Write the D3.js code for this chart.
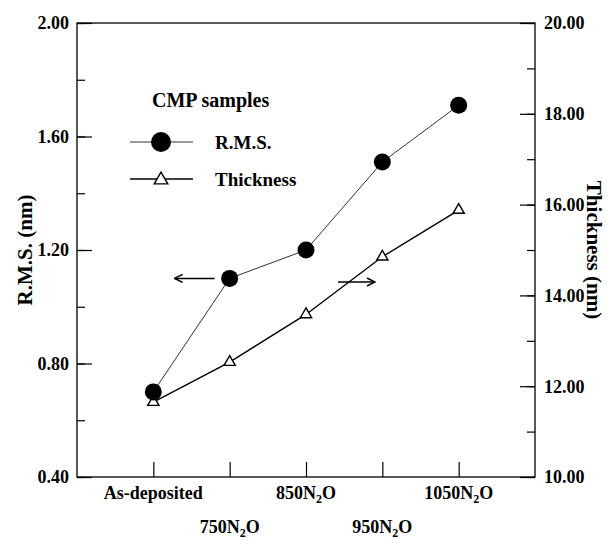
<!DOCTYPE html>
<html>
<head>
<meta charset="utf-8">
<script src="https://cdn.jsdelivr.net/npm/d3@7"></script>
<style>
  html, body { margin: 0; padding: 0; background: #fff; }
  svg text { font-family: "Liberation Serif", "Times New Roman", serif; font-weight: bold; fill: #000; }
</style>
</head>
<body>
<svg id="chart" width="611" height="544"></svg>
<script>
// ---- data ----
const categories = ["As-deposited", "750N2O", "850N2O", "950N2O", "1050N2O"];
const rmsValues = [0.70, 1.10, 1.20, 1.51, 1.71];
const thicknessValues = [11.65, 12.53, 13.58, 14.85, 15.88];
const leftTicks = [0.40, 0.80, 1.20, 1.60, 2.00];
const rightTicks = [10, 12, 14, 16, 18, 20];
const legendTitle = "CMP samples";
const legendLabels = ["R.M.S.", "Thickness"];

// ---- layout ----
const L = 77, R = 535, T = 23, B = 477;
const svg = d3.select("#chart");

const x = d3.scalePoint().domain(categories).range([L, R]).padding(1);
const yL = d3.scaleLinear().domain([0.4, 2.0]).range([B, T]);
const yR = d3.scaleLinear().domain([10, 20]).range([B, T]);

// frame
svg.append("rect").attr("x", L).attr("y", T).attr("width", R - L).attr("height", B - T)
  .attr("fill", "none").attr("stroke", "#000").attr("stroke-width", 1.3);

// left axis: major + minor ticks inward
const leftMinor = d3.range(0.4, 2.0001, 0.2);
svg.append("g").attr("transform", `translate(${L},0)`)
  .call(d3.axisRight(yL).tickValues(leftMinor).tickSize(8).tickFormat(""))
  .call(g => g.select(".domain").remove())
  .selectAll("line").attr("stroke", "#000").attr("stroke-width", 1.2);
svg.append("g").attr("transform", `translate(${L},0)`)
  .call(d3.axisRight(yL).tickValues(leftTicks).tickSize(15).tickFormat(""))
  .call(g => g.select(".domain").remove())
  .selectAll("line").attr("stroke", "#000").attr("stroke-width", 1.2);
svg.append("g").selectAll("text").data(leftTicks).join("text")
  .attr("x", L - 8).attr("y", d => yL(d)).attr("dy", "0.35em")
  .attr("text-anchor", "end").attr("font-size", 18)
  .text(d => d.toFixed(2));

// right axis
const rightMinor = d3.range(10, 20.001, 1);
svg.append("g").attr("transform", `translate(${R},0)`)
  .call(d3.axisLeft(yR).tickValues(rightMinor).tickSize(8).tickFormat(""))
  .call(g => g.select(".domain").remove())
  .selectAll("line").attr("stroke", "#000").attr("stroke-width", 1.2);
svg.append("g").attr("transform", `translate(${R},0)`)
  .call(d3.axisLeft(yR).tickValues(rightTicks).tickSize(15).tickFormat(""))
  .call(g => g.select(".domain").remove())
  .selectAll("line").attr("stroke", "#000").attr("stroke-width", 1.2);
svg.append("g").selectAll("text").data(rightTicks).join("text")
  .attr("x", R + 9).attr("y", d => yR(d)).attr("dy", "0.35em")
  .attr("text-anchor", "start").attr("font-size", 18)
  .text(d => d.toFixed(2));

// bottom axis ticks inward
svg.append("g").attr("transform", `translate(0,${B})`)
  .call(d3.axisTop(x).tickSize(15).tickFormat(""))
  .call(g => g.select(".domain").remove())
  .selectAll("line").attr("stroke", "#000").attr("stroke-width", 1.2);

// category labels with subscript, alternating rows
const catLabels = svg.append("g").selectAll("text").data(categories).join("text")
  .attr("x", d => x(d)).attr("y", (d, i) => i % 2 === 0 ? 499 : 533)
  .attr("text-anchor", "middle").attr("font-size", 18);
catLabels.each(function(d) {
  const t = d3.select(this);
  const m = d.match(/^(\d+)N2O$/);
  if (m) {
    t.append("tspan").text(m[1] + "N");
    t.append("tspan").attr("font-size", 12).attr("dy", 4).text("2");
    t.append("tspan").attr("dy", -4).text("O");
  } else {
    t.text(d);
  }
});

// axis titles
svg.append("text").attr("transform", "translate(32,250) rotate(-90)")
  .attr("text-anchor", "middle").attr("font-size", 21).text("R.M.S. (nm)");
svg.append("text").attr("transform", "translate(587,250) rotate(90)")
  .attr("text-anchor", "middle").attr("font-size", 21).text("Thickness (nm)");

// series lines
const lineRms = d3.line().x((d, i) => x(categories[i])).y(d => yL(d));
const lineTh = d3.line().x((d, i) => x(categories[i])).y(d => yR(d));
svg.append("path").datum(rmsValues).attr("d", lineRms)
  .attr("fill", "none").attr("stroke", "#333").attr("stroke-width", 1);
svg.append("path").datum(thicknessValues).attr("d", lineTh)
  .attr("fill", "none").attr("stroke", "#000").attr("stroke-width", 1.4);

// markers
const tri = d3.symbol().type(d3.symbolTriangle).size(55);
svg.append("g").selectAll("path").data(thicknessValues).join("path")
  .attr("d", tri)
  .attr("transform", (d, i) => `translate(${x(categories[i])},${yR(d)})`)
  .attr("fill", "#fff").attr("stroke", "#000").attr("stroke-width", 1.4);
svg.append("g").selectAll("circle").data(rmsValues).join("circle")
  .attr("cx", (d, i) => x(categories[i])).attr("cy", d => yL(d)).attr("r", 8.5)
  .attr("fill", "#000");

// arrows
svg.append("defs").append("marker").attr("id", "ah")
  .attr("viewBox", "0 0 10 10").attr("refX", 9).attr("refY", 5)
  .attr("markerWidth", 10).attr("markerHeight", 10).attr("markerUnits", "userSpaceOnUse")
  .attr("orient", "auto")
  .append("path").attr("d", "M1,1 L9,5 L1,9").attr("fill", "none").attr("stroke", "#000").attr("stroke-width", 1.5);
const arrowLeftY = yL(rmsValues[1]);
svg.append("line").attr("x1", x(categories[1]) - 15).attr("y1", arrowLeftY)
  .attr("x2", x(categories[1]) - 55).attr("y2", arrowLeftY)
  .attr("stroke", "#000").attr("stroke-width", 1.5).attr("marker-end", "url(#ah)");
svg.append("line").attr("x1", x(categories[2]) + 32).attr("y1", 282)
  .attr("x2", x(categories[2]) + 69).attr("y2", 282)
  .attr("stroke", "#000").attr("stroke-width", 1.5).attr("marker-end", "url(#ah)");

// legend
svg.append("text").attr("x", 152).attr("y", 107).attr("font-size", 20).text(legendTitle);
svg.append("line").attr("x1", 130).attr("x2", 193).attr("y1", 142).attr("y2", 142)
  .attr("stroke", "#333").attr("stroke-width", 1);
svg.append("circle").attr("cx", 161).attr("cy", 142).attr("r", 10).attr("fill", "#000");
svg.append("line").attr("x1", 130).attr("x2", 193).attr("y1", 179).attr("y2", 179)
  .attr("stroke", "#000").attr("stroke-width", 1.4);
svg.append("path").attr("d", d3.symbol().type(d3.symbolTriangle).size(80))
  .attr("transform", "translate(161,180)").attr("fill", "#fff").attr("stroke", "#000").attr("stroke-width", 1.4);
svg.append("text").attr("x", 215).attr("y", 149).attr("font-size", 19).text(legendLabels[0]);
svg.append("text").attr("x", 215).attr("y", 186).attr("font-size", 19).text(legendLabels[1]);
</script>
</body>
</html>
